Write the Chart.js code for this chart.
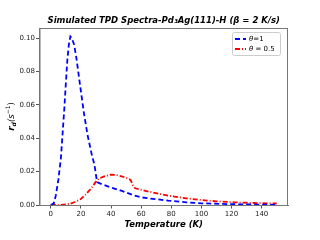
<!DOCTYPE html>
<html>
<head>
<meta charset="utf-8">
<script src="https://cdn.jsdelivr.net/npm/chart.js@4.4.0/dist/chart.umd.min.js"></script>
<style>
    html, body { margin: 0; padding: 0; background: #fff; }
    #wrap { width: 320px; height: 240px; }
</style>
</head>
<body>
<div id="wrap"><canvas id="tpdChart" width="320" height="240"></canvas></div>
<script>
// theta = 1 series
const tempFull = [0, 2, 3.3, 5, 6.7, 8, 9, 10, 11, 12, 13, 14, 15.5, 17, 20, 22, 24.4, 27, 29, 30.5, 31, 33, 40, 46.7, 55, 60, 65, 78, 90, 100, 120, 140, 150];
const rateFull = [0, 0.001, 0.0056, 0.015, 0.028, 0.045, 0.058, 0.073, 0.087, 0.096, 0.101, 0.1, 0.096, 0.088, 0.068, 0.055, 0.042, 0.031, 0.024, 0.015, 0.0136, 0.0128, 0.0105, 0.0086, 0.0058, 0.0046, 0.004, 0.0026, 0.0016, 0.001, 0.0005, 0.0002, 0.0001];

// theta = 0.5 series
const tempHalf = [0, 5, 10, 13, 16, 20, 23, 26.7, 30, 32, 35, 38, 40, 43, 47, 51, 53, 54.5, 56, 65, 78, 90, 100, 110, 122, 135, 145, 150];
const rateHalf = [0, 0, 0.0003, 0.0008, 0.0018, 0.0036, 0.0062, 0.0098, 0.014, 0.0158, 0.017, 0.0178, 0.0182, 0.018, 0.0172, 0.016, 0.015, 0.0118, 0.01, 0.008, 0.0056, 0.004, 0.003, 0.0022, 0.0016, 0.0012, 0.001, 0.0009];

const xTicks = [0, 20, 40, 60, 80, 100, 120, 140];
const yTicks = [0, 0.02, 0.04, 0.06, 0.08, 0.10];
const seriesNames = ['=1', ' = 0.5'];
const chartTitle = 'Simulated TPD Spectra-Pd\u2083Ag(111)-H (\u03b2 = 2 K/s)';

const toPoints = (xs, ys) => xs.map((x, i) => ({ x: x, y: ys[i] }));

// Frame on all four sides + title centred over the plot
const framePlugin = {
    id: 'frame',
    afterDraw(chart) {
        const { ctx, chartArea: a } = chart;
        ctx.save();
        ctx.strokeStyle = '#777';
        ctx.lineWidth = 1;
        ctx.strokeRect(a.left + 0.5, a.top + 0.5, a.right - a.left - 1, a.bottom - a.top);
        ctx.fillStyle = '#000';
        ctx.textAlign = 'center';
        ctx.textBaseline = 'middle';
        ctx.font = 'bold italic 8.5px "DejaVu Sans"';
        ctx.fillText(chartTitle, (a.left + a.right) / 2, 21);
        ctx.restore();
    }
};

// Y label with subscript / superscript
const yLabelPlugin = {
    id: 'yLabel',
    afterDraw(chart) {
        const ctx = chart.ctx;
        const parts = [
            { t: 'r', f: 'bold italic 9px "DejaVu Sans"', dy: 0 },
            { t: 'd', f: 'bold italic 6px "DejaVu Sans"', dy: 2 },
            { t: '(s', f: 'italic 8.5px "DejaVu Sans"', dy: 0 },
            { t: '\u22121', f: '6px "DejaVu Sans"', dy: -3.5 },
            { t: ')', f: '8.5px "DejaVu Sans"', dy: 0 }
        ];
        ctx.save();
        let total = 0;
        parts.forEach(p => { ctx.font = p.f; p.w = ctx.measureText(p.t).width; total += p.w; });
        const a = chart.chartArea;
        ctx.translate(12, (a.top + a.bottom) / 2);
        ctx.rotate(-Math.PI / 2);
        ctx.fillStyle = '#000';
        ctx.textBaseline = 'middle';
        let x = -total / 2;
        parts.forEach(p => {
            ctx.font = p.f;
            ctx.fillText(p.t, x, p.dy);
            x += p.w;
        });
        ctx.restore();
    }
};

// Legend box in the upper right corner
const legendPlugin = {
    id: 'boxLegend',
    afterDraw(chart) {
        const ctx = chart.ctx;
        const a = chart.chartArea;
        const bx = a.right - 56, by = a.top + 4, bw = 48, bh = 23;
        ctx.save();
        ctx.fillStyle = 'rgba(255,255,255,0.8)';
        ctx.strokeStyle = '#ccc';
        ctx.lineWidth = 1;
        ctx.beginPath();
        ctx.roundRect(bx + 0.5, by + 0.5, bw, bh, 2);
        ctx.fill();
        ctx.stroke();
        chart.data.datasets.forEach((ds, i) => {
            const y = by + 7 + i * 10;
            ctx.strokeStyle = ds.borderColor;
            ctx.lineWidth = 1.8;
            ctx.setLineDash(ds.borderDash);
            ctx.beginPath();
            ctx.moveTo(bx + 3, y);
            ctx.lineTo(bx + 14, y);
            ctx.stroke();
            ctx.setLineDash([]);
            ctx.fillStyle = '#000';
            ctx.textBaseline = 'middle';
            ctx.font = 'italic 7px "DejaVu Sans"';
            ctx.fillText('\u03b8', bx + 17, y);
            const w = ctx.measureText('\u03b8').width;
            ctx.font = '7px "DejaVu Sans"';
            ctx.fillText(seriesNames[i], bx + 17 + w, y);
        });
        ctx.restore();
    }
};

const tickFont = { family: 'DejaVu Sans', size: 7 };

new Chart(document.getElementById('tpdChart').getContext('2d'), {
    type: 'line',
    data: {
        datasets: [
            {
                label: '\u03b8 =1',
                data: toPoints(tempFull, rateFull),
                borderColor: '#0000ff',
                borderWidth: 1.8,
                borderDash: [5, 3],
                pointRadius: 0,
                tension: 0,
                fill: false
            },
            {
                label: '\u03b8 = 0.5',
                data: toPoints(tempHalf, rateHalf),
                borderColor: '#ff0000',
                borderWidth: 1.8,
                borderDash: [5, 2, 1, 2],
                pointRadius: 0,
                tension: 0,
                fill: false
            }
        ]
    },
    options: {
        responsive: false,
        animation: false,
        devicePixelRatio: 1,
        layout: { padding: { left: 0, right: 32, top: 28, bottom: 0 } },
        plugins: {
            legend: { display: false },
            tooltip: { enabled: false },
            title: { display: false }
        },
        scales: {
            x: {
                type: 'linear',
                min: -7.5,
                max: 157.5,
                afterBuildTicks: axis => { axis.ticks = xTicks.map(v => ({ value: v })); },
                afterFit: axis => { axis.height = 35; },
                ticks: { font: tickFont, color: '#222', padding: 1.5, maxRotation: 0 },
                grid: { drawOnChartArea: false, drawTicks: true, tickLength: 3.5, color: '#555' },
                border: { color: '#777' },
                title: {
                    display: true,
                    text: 'Temperature (K)',
                    color: '#000',
                    font: { family: 'DejaVu Sans', size: 8.5, weight: 'bold', style: 'italic' },
                    padding: { top: 1, bottom: 10 }
                }
            },
            y: {
                type: 'linear',
                min: 0,
                max: 0.106,
                afterBuildTicks: axis => { axis.ticks = yTicks.map(v => ({ value: v })); },
                afterFit: axis => { axis.width = 39.5; },
                ticks: { font: tickFont, color: '#222', padding: 1, callback: v => v.toFixed(2) },
                grid: { drawOnChartArea: false, drawTicks: true, tickLength: 3.5, color: '#555' },
                border: { color: '#777' }
            }
        }
    },
    plugins: [framePlugin, yLabelPlugin, legendPlugin]
});
</script>
</body>
</html>
